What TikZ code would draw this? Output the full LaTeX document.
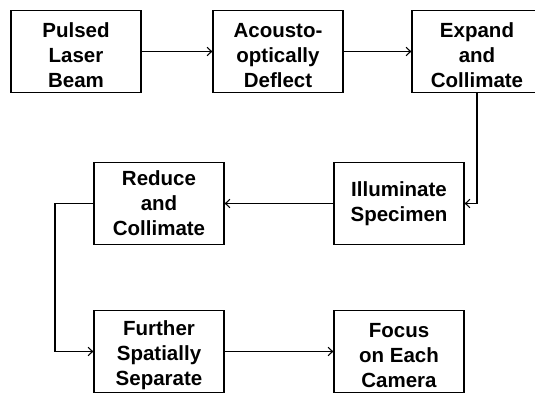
\documentclass[tikz,border=0pt]{standalone}
\usepackage{fontspec}
\setmainfont{Liberation Sans}
\usetikzlibrary{arrows.meta}
\newcommand\dnstrut{\rule{0pt}{22pt}}
\begin{document}
\begin{tikzpicture}[x=1pt,y=-1pt,
  box/.style={draw, line width=1.3pt, minimum width=130pt, minimum height=82pt, inner sep=0pt,
    align=center, font=\fontsize{20.5}{25}\selectfont\bfseries},
  conn/.style={line width=1.1pt, -{Straight Barb[length=4.5pt,width=8.5pt,line width=1.1pt]}}]
\useasboundingbox (0,0) rectangle (535,394);
\clip (0,0) rectangle (535,394);
\node[box] (b1) at (76,51.5) {\dnstrut Pulsed\\Laser\\Beam};
\node[box] (b2) at (278,51.5) {\dnstrut Acousto-\\optically\\Deflect};
\node[box] (b3) at (477,51.5) {\dnstrut Expand\\and\\Collimate};
\node[box] (b4) at (399,203.5) {Illuminate\\Specimen};
\node[box] (b5) at (159,203.5) {Reduce\\and\\Collimate};
\node[box] (b6) at (159,351.5) {\dnstrut Further\\Spatially\\Separate};
\node[box] (b7) at (399,351.5) {\dnstrut Focus\\on Each\\Camera};
\coordinate (lft) at (55,203.5);
\draw[conn] (b1) -- (b2);
\draw[conn] (b2) -- (b3);
\draw[conn] (b3.south) |- (b4.east);
\draw[conn] (b4) -- (b5);
\draw[conn] (b5.west) -- (lft) |- (b6.west);
\draw[conn] (b6) -- (b7);
\end{tikzpicture}
\end{document}
